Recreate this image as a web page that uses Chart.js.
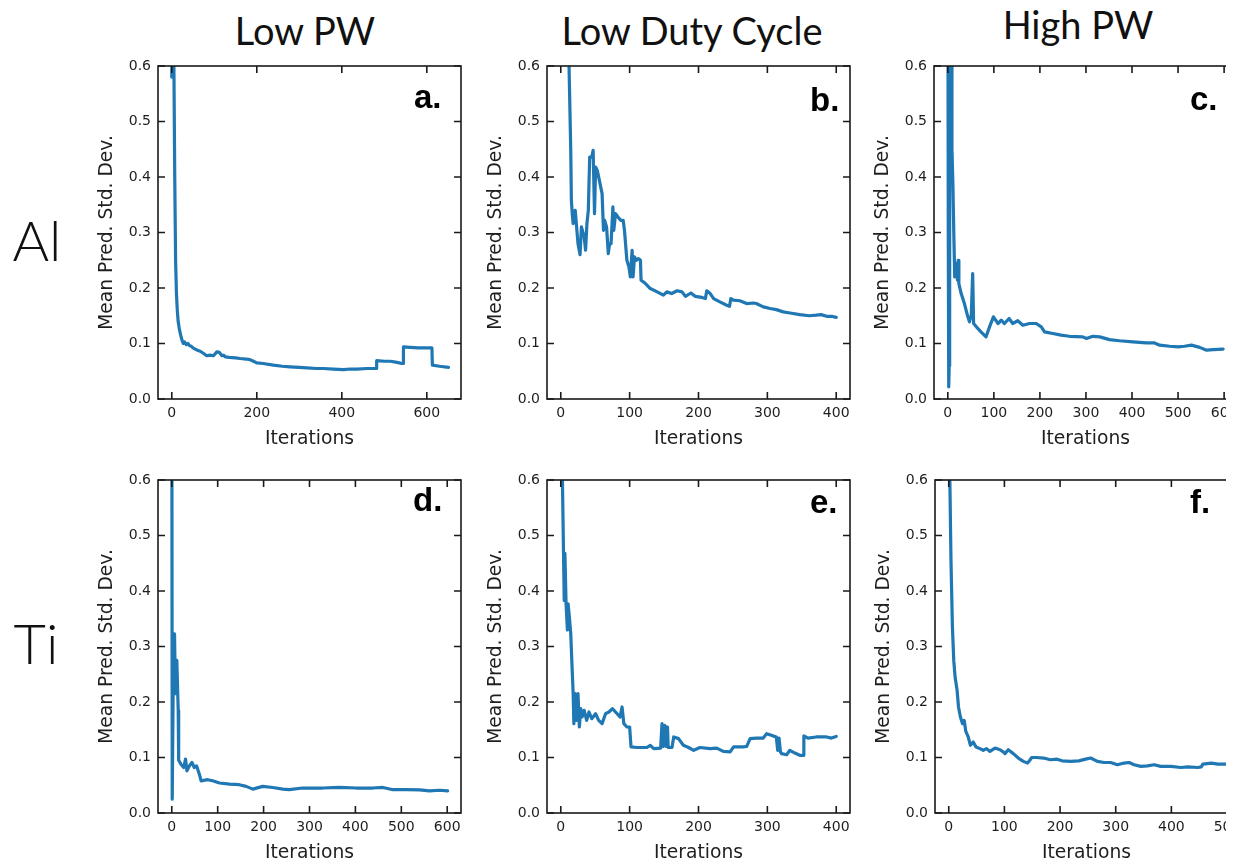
<!DOCTYPE html>
<html><head><meta charset="utf-8">
<script src="https://cdn.jsdelivr.net/npm/chart.js@4.4.1/dist/chart.umd.min.js"></script>
<style>
html,body{margin:0;padding:0;background:#fff;}
#page{position:relative;width:1238px;height:867px;overflow:hidden;background:#fff;}
.clip{position:absolute;overflow:hidden;}
.clip canvas{position:absolute;left:0;top:0;}
.colt{position:absolute;font-family:Lato,'Open Sans',sans-serif;font-size:38px;line-height:38px;color:#111;white-space:nowrap;transform:translateX(-50%);}
.rowt{position:absolute;font-family:Lato,'DejaVu Sans',sans-serif;font-weight:300;font-size:56px;line-height:56px;color:#111;white-space:nowrap;transform:translateX(-50%);}
</style></head><body><div id="page">
<div class="colt" style="left:305px;top:11px">Low PW</div>
<div class="colt" style="left:692px;top:11px">Low Duty Cycle</div>
<div class="colt" style="left:1078px;top:5px">High PW</div>
<div class="rowt" style="left:37px;top:212px">Al</div>
<div class="rowt" style="left:36px;top:615px">Ti</div>
</div>
<script>
// ---------- data ----------
const columnTitles = ['Low PW', 'Low Duty Cycle', 'High PW'];
const rowTitles = ['Al', 'Ti'];
const panelLabels = ['a.', 'b.', 'c.', 'd.', 'e.', 'f.'];
const yTickValues = [0, 0.1, 0.2, 0.3, 0.4, 0.5, 0.6];

// a. Al / Low PW
const aX = [0, 1, 3, 5, 7, 9, 11, 13, 15, 18,
            21, 24, 27, 30, 34, 38, 42, 46, 50, 55,
            60, 67, 75, 82, 90, 98, 106, 112, 118, 122,
            126, 135, 150, 161, 175, 184, 192, 200, 215, 239,
            260, 278, 300, 318, 340, 357, 380, 404, 420, 435,
            460, 481, 482, 500, 514, 530, 541, 544, 545, 560,
            580, 600, 612, 613, 630, 651];
const aY = [0.58, 0.7, 0.9, 0.6, 0.4, 0.25, 0.19, 0.16, 0.14, 0.125,
            0.115, 0.106, 0.1, 0.103, 0.098, 0.1, 0.096, 0.095, 0.092, 0.09,
            0.088, 0.086, 0.082, 0.078, 0.079, 0.078, 0.085, 0.084, 0.078, 0.079,
            0.076, 0.075, 0.074, 0.073, 0.072, 0.071, 0.068, 0.065, 0.064, 0.061,
            0.059, 0.058, 0.057, 0.056, 0.055, 0.055, 0.054, 0.053, 0.054, 0.054,
            0.055, 0.055, 0.069, 0.068, 0.068, 0.066, 0.064, 0.064, 0.094, 0.093,
            0.092, 0.092, 0.092, 0.061, 0.059, 0.057];

// b. Al / Low Duty Cycle
const bX = [0, 8, 12, 14.5, 15.4, 17, 18, 21, 23, 25,
            28, 30, 34, 36, 38, 40, 42, 45, 47, 49,
            50.6, 53, 57, 60, 62, 63.6, 66.5, 69, 71, 73,
            75.7, 77, 79.5, 83, 87, 90.6, 92.5, 96, 99, 101,
            103.6, 105, 107, 110, 113, 115.7, 116.6, 123, 130, 140,
            149, 154, 161, 169, 176, 181, 189, 195, 205, 210,
            212, 217, 222, 231, 241, 245, 247, 251, 260, 270,
            280, 284, 294, 304, 313, 323, 333, 347, 361, 371,
            378, 386, 393, 400];
const bY = [1.4, 0.85, 0.6, 0.448, 0.358, 0.328, 0.316, 0.34, 0.31, 0.28,
            0.26, 0.31, 0.292, 0.268, 0.316, 0.34, 0.436, 0.436, 0.448, 0.334,
            0.418, 0.412, 0.388, 0.37, 0.304, 0.322, 0.31, 0.262, 0.28, 0.28,
            0.346, 0.304, 0.334, 0.328, 0.322, 0.322, 0.304, 0.25, 0.238, 0.22,
            0.268, 0.22, 0.256, 0.25, 0.253, 0.25, 0.214, 0.208, 0.199, 0.193,
            0.187, 0.193, 0.19, 0.195, 0.193, 0.185, 0.191, 0.185, 0.183, 0.181,
            0.195, 0.19, 0.181, 0.175, 0.169, 0.167, 0.181, 0.178, 0.177, 0.172,
            0.173, 0.172, 0.166, 0.163, 0.161, 0.157, 0.155, 0.152, 0.15, 0.151,
            0.152, 0.149, 0.149, 0.147];

// c. Al / High PW
const cX = [0, 1, 2, 3, 4, 7, 9, 11, 13, 15,
            18, 21, 22.5, 24, 29, 36, 43.5, 47, 51, 54,
            56, 62, 72, 83, 90.6, 99, 109, 116, 123, 133,
            141, 152, 163, 177.5, 192, 203, 210, 228, 246, 264,
            293, 301, 315, 330, 351, 373, 402, 431, 449, 460,
            482, 500, 514, 529, 547, 562, 576, 598];
const cY = [0.9, 0.3, 0.022, 0.06, 0.9, 0.62, 0.45, 0.388, 0.298, 0.22,
            0.244, 0.214, 0.25, 0.208, 0.19, 0.172, 0.148, 0.139, 0.151, 0.226,
            0.136, 0.13, 0.121, 0.112, 0.13, 0.148, 0.136, 0.142, 0.136, 0.145,
            0.136, 0.141, 0.133, 0.136, 0.136, 0.13, 0.121, 0.118, 0.115, 0.113,
            0.112, 0.109, 0.113, 0.112, 0.107, 0.105, 0.103, 0.101, 0.101, 0.097,
            0.095, 0.094, 0.095, 0.097, 0.093, 0.088, 0.089, 0.09];

// d. Ti / Low PW
const dX = [0, 1, 4, 6, 8, 11, 14, 15, 20, 26,
            30, 33, 38.5, 44, 49, 54, 60, 64, 78, 89,
            104, 126, 147, 162, 176.5, 198, 220, 242, 256, 285,
            329, 365, 402, 438, 460, 482, 511, 540, 561, 583,
            601];
const dY = [0.9, 0.025, 0.323, 0.323, 0.215, 0.275, 0.185, 0.095, 0.088, 0.082,
            0.097, 0.076, 0.085, 0.091, 0.082, 0.085, 0.07, 0.058, 0.06, 0.058,
            0.054, 0.052, 0.051, 0.048, 0.043, 0.048, 0.046, 0.043, 0.042, 0.045,
            0.045, 0.046, 0.045, 0.045, 0.046, 0.042, 0.042, 0.0415, 0.04, 0.041,
            0.04];

// e. Ti / Low Duty Cycle
const eX = [0, 2.4, 4, 5, 6, 7.7, 9.6, 10.6, 12.5, 14.5,
            16, 18, 19, 21, 23, 25, 27, 29, 31, 34,
            37.6, 41, 45, 50.6, 55, 60, 65, 70, 75, 79.5,
            86, 89, 91.6, 96, 100, 102, 111, 125, 130, 135,
            145, 147, 149, 151, 153, 155, 156, 161.5, 164, 171,
            178, 185.6, 193, 202, 217, 226.5, 236, 246, 251, 265,
            270, 275, 284, 294, 299, 308, 313, 315, 317, 319,
            320.5, 328, 332.6, 340, 347, 352, 353, 359, 371, 386,
            393, 400];
const eY = [0.9, 0.6, 0.468, 0.383, 0.468, 0.377, 0.33, 0.377, 0.353, 0.323,
            0.275, 0.215, 0.161, 0.215, 0.167, 0.215, 0.155, 0.188, 0.173, 0.185,
            0.167, 0.182, 0.17, 0.179, 0.167, 0.161, 0.179, 0.182, 0.188, 0.182,
            0.173, 0.191, 0.161, 0.155, 0.155, 0.119, 0.118, 0.118, 0.122, 0.116,
            0.117, 0.161, 0.12, 0.158, 0.12, 0.155, 0.118, 0.118, 0.137, 0.134,
            0.122, 0.118, 0.113, 0.118, 0.116, 0.117, 0.111, 0.11, 0.119, 0.119,
            0.12, 0.134, 0.135, 0.135, 0.143, 0.139, 0.137, 0.113, 0.135, 0.11,
            0.107, 0.105, 0.113, 0.108, 0.104, 0.104, 0.139, 0.135, 0.137, 0.137,
            0.135, 0.138];

// f. Ti / High PW
const fX = [0, 2, 4, 6.6, 9, 11.4, 15, 17.5, 21, 24.7,
            27.7, 30.7, 35, 39, 44, 49, 56, 62, 68, 74,
            83, 92, 98, 101, 107, 116, 125, 134, 141.6, 145,
            149, 158, 170.5, 182.5, 194.6, 203.6, 218.7, 233.7, 246, 255,
            267, 279, 291, 303, 315, 324, 333, 345, 357, 369,
            381, 399, 417, 429.5, 447.6, 453.6, 456.6, 471.7, 483.7, 500.6];
const fY = [0.9, 0.6, 0.456, 0.335, 0.275, 0.245, 0.221, 0.191, 0.173, 0.161,
            0.167, 0.147, 0.137, 0.122, 0.128, 0.119, 0.116, 0.113, 0.116, 0.111,
            0.117, 0.114, 0.11, 0.107, 0.114, 0.107, 0.099, 0.093, 0.09, 0.094,
            0.1, 0.1, 0.099, 0.096, 0.097, 0.094, 0.093, 0.094, 0.097, 0.099,
            0.093, 0.091, 0.091, 0.087, 0.09, 0.091, 0.087, 0.084, 0.085, 0.087,
            0.084, 0.084, 0.082, 0.083, 0.082, 0.083, 0.088, 0.09, 0.088, 0.088];

// x axis ranges and tick steps per panel
const xRanges = [[-32.4, 680.4], [-20, 420], [-30, 628], [-30, 630], [-20, 420], [-24.7, 519.7]];
const xSteps = [200, 100, 100, 100, 100, 100];

// ---------- layout ----------
const TXT = '#1e1e1e';
const LINE = '#1f77b4';
const CW = 391, CH = 403;
Chart.defaults.font.family = "'DejaVu Sans', sans-serif";

const panels = [
  {xs:aX, ys:aY, left:90,  top:56,  clipW:CW,  lx:256},
  {xs:bX, ys:bY, left:479, top:56,  clipW:CW,  lx:263},
  {xs:cX, ys:cY, left:866, top:56,  clipW:360, lx:256},
  {xs:dX, ys:dY, left:90,  top:470, clipW:CW,  lx:255},
  {xs:eX, ys:eY, left:479, top:470, clipW:CW,  lx:263},
  {xs:fX, ys:fY, left:867, top:470, clipW:359, lx:255}
];
const labelBaselines = [42, 45, 44, 31, 33, 33];

const framePlugin = {
  id: 'frameTicks',
  afterDatasetsDraw(chart, args, opts) {
    const {ctx, chartArea, scales} = chart;
    const {left, right, top, bottom} = chartArea;
    const xs = scales.x, ys = scales.y;
    ctx.save();
    ctx.strokeStyle = '#1a1a1a';
    ctx.lineWidth = 1.6;
    ctx.strokeRect(left, top, right - left, bottom - top);
    const L = 7;
    ctx.beginPath();
    xs.ticks.forEach(t => {
      const px = xs.getPixelForValue(t.value);
      ctx.moveTo(px, bottom); ctx.lineTo(px, bottom - L);
      ctx.moveTo(px, top); ctx.lineTo(px, top + L);
    });
    ys.ticks.forEach(t => {
      const py = ys.getPixelForValue(t.value);
      ctx.moveTo(left, py); ctx.lineTo(left + L, py);
      ctx.moveTo(right, py); ctx.lineTo(right - L, py);
    });
    ctx.stroke();
    if (opts && opts.text) {
      ctx.fillStyle = '#000';
      ctx.font = "bold 33px 'Liberation Sans', Arial, sans-serif";
      ctx.textAlign = 'left';
      ctx.textBaseline = 'alphabetic';
      ctx.fillText(opts.text, left + opts.dx, top + opts.dy);
    }
    ctx.restore();
  }
};

const page = document.getElementById('page');
panels.forEach((p, i) => {
  const wrap = document.createElement('div');
  wrap.className = 'clip';
  wrap.style.left = p.left + 'px';
  wrap.style.top = p.top + 'px';
  wrap.style.width = p.clipW + 'px';
  wrap.style.height = CH + 'px';
  const cv = document.createElement('canvas');
  cv.width = CW; cv.height = CH;
  cv.style.width = CW + 'px'; cv.style.height = CH + 'px';
  wrap.appendChild(cv);
  page.appendChild(wrap);
  new Chart(cv.getContext('2d'), {
    type: 'scatter',
    data: {datasets: [{
      data: p.xs.map((x, k) => ({x: x, y: p.ys[k]})),
      showLine: true, borderColor: LINE, backgroundColor: LINE, borderWidth: 3.2,
      pointRadius: 0, pointHoverRadius: 0, fill: false, tension: 0,
      borderJoinStyle: 'round', borderCapStyle: 'round', clip: 0
    }]},
    options: {
      responsive: false, animation: false, devicePixelRatio: 1, events: [],
      layout: {padding: {top: 10, right: 20, left: 0, bottom: 0}},
      plugins: {
        legend: {display: false}, tooltip: {enabled: false},
        frameTicks: {text: panelLabels[i], dx: p.lx, dy: labelBaselines[i]}
      },
      scales: {
        x: {
          type: 'linear', position: 'bottom', min: xRanges[i][0], max: xRanges[i][1],
          ticks: {stepSize: xSteps[i], includeBounds: false, autoSkip: false, maxRotation: 0,
                  padding: 6, color: TXT, font: {size: 14}, callback: v => String(Math.round(v))},
          grid: {display: false, drawTicks: false}, border: {display: false},
          title: {display: true, text: 'Iterations', color: TXT, font: {size: 18.7}, padding: {top: 4, bottom: 9}},
          afterFit(s) { s.height = 60; s.paddingLeft = 0; s.paddingRight = 0; }
        },
        y: {
          type: 'linear', position: 'left', min: 0, max: 0.6,
          afterBuildTicks(s) { s.ticks = yTickValues.map(v => ({value: v})); },
          ticks: {padding: 7, color: TXT, font: {size: 14}, callback: v => Number(v).toFixed(1)},
          grid: {display: false, drawTicks: false}, border: {display: false},
          title: {display: true, text: 'Mean Pred. Std. Dev.', color: TXT, font: {size: 18.7}, padding: {top: 5.5, bottom: 4}},
          afterFit(s) { s.width = 68; s.paddingTop = 0; s.paddingBottom = 0; }
        }
      }
    },
    plugins: [framePlugin]
  });
});
</script>
</body></html>
